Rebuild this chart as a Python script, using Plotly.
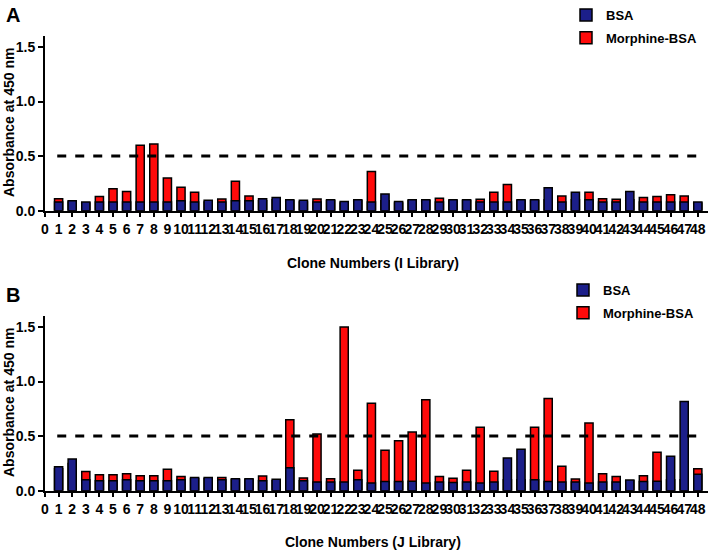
import plotly.graph_objects as go
from plotly.subplots import make_subplots

clones = list(range(1, 49))
tick_vals = list(range(0, 49))
y_ticks = [0, 0.5, 1.0, 1.5]
y_ticktext = ["0.0", "0.5", "1.0", "1.5"]
cutoff = 0.5

# I library (panel A)
bsa_i = [0.08, 0.09, 0.08, 0.08, 0.08, 0.08, 0.08, 0.08, 0.08, 0.09,
         0.08, 0.095, 0.08, 0.09, 0.09, 0.11, 0.12, 0.10, 0.095, 0.08,
         0.10, 0.085, 0.10, 0.08, 0.153, 0.085, 0.10, 0.10, 0.08, 0.10,
         0.10, 0.08, 0.08, 0.08, 0.10, 0.10, 0.21, 0.08, 0.17, 0.10,
         0.08, 0.08, 0.175, 0.08, 0.08, 0.08, 0.08, 0.08]
morph_i = [0.11, 0.08, 0.07, 0.13, 0.20, 0.175, 0.60, 0.61, 0.30, 0.215,
           0.17, 0.08, 0.107, 0.27, 0.135, 0.09, 0.10, 0.09, 0.08, 0.107,
           0.09, 0.07, 0.09, 0.36, 0.09, 0.07, 0.09, 0.09, 0.113, 0.09,
           0.09, 0.105, 0.17, 0.24, 0.09, 0.09, 0.10, 0.135, 0.10, 0.17,
           0.11, 0.105, 0.10, 0.12, 0.13, 0.145, 0.135, 0.07]

# J library (panel B)
bsa_j = [0.22, 0.29, 0.10, 0.09, 0.09, 0.10, 0.09, 0.09, 0.09, 0.10,
         0.12, 0.12, 0.10, 0.11, 0.11, 0.09, 0.105, 0.21, 0.09, 0.08,
         0.08, 0.08, 0.10, 0.07, 0.085, 0.085, 0.086, 0.07, 0.08, 0.075,
         0.08, 0.07, 0.08, 0.30, 0.38, 0.10, 0.085, 0.08, 0.08, 0.07,
         0.08, 0.08, 0.098, 0.085, 0.086, 0.316, 0.816, 0.15]
morph_j = [0.20, 0.25, 0.175, 0.147, 0.147, 0.156, 0.138, 0.138, 0.196, 0.13,
           0.11, 0.11, 0.12, 0.10, 0.10, 0.135, 0.09, 0.65, 0.117, 0.52,
           0.11, 1.50, 0.187, 0.80, 0.37, 0.457, 0.537, 0.834, 0.129, 0.113,
           0.187, 0.58, 0.178, 0.10, 0.10, 0.58, 0.844, 0.224, 0.107, 0.62,
           0.156, 0.129, 0.09, 0.138, 0.353, 0.10, 0.10, 0.20]

BLUE = "#1c1f8a"
RED = "#ff0a0a"
FONT = "Liberation Sans, Arial, sans-serif"
H = 552.0
L = 45
PW = 708 - L  # plot width (r = 0)

def py(p):
    return (H - p) / H

def px_(p):
    return (p - L) / PW

fig = make_subplots(rows=2, cols=1)

panels = [(morph_i, bsa_i, 1, "legend"), (morph_j, bsa_j, 2, "legend2")]
for morph, bsa, row, leg in panels:
    fig.add_trace(go.Bar(x=clones, y=morph, name="Morphine-BSA", marker_color=RED,
                         marker_line=dict(color="black", width=1.5), width=0.6,
                         legend=leg, legendgroup="m", legendrank=2), row=row, col=1)
    fig.add_trace(go.Bar(x=clones, y=bsa, name="BSA", marker_color=BLUE,
                         marker_line=dict(color="black", width=1.5), width=0.6,
                         legend=leg, legendgroup="b", legendrank=1), row=row, col=1)
    fig.add_shape(type="line", x0=0.9, x1=47.9, y0=cutoff, y1=cutoff,
                  line=dict(color="black", width=3, dash="dash"), row=row, col=1)

axis_font = dict(family=FONT, size=14, color="black", weight="bold")
fig.update_xaxes(range=[0, PW / 13.6], tickvals=tick_vals, ticks="outside", ticklen=4,
                 tickwidth=2, tickcolor="black", showline=True, linecolor="black",
                 linewidth=2, showgrid=False, zeroline=False, tickfont=axis_font,
                 tickangle=0, automargin=False)
fig.update_yaxes(range=[0, 1.6], tickvals=y_ticks, ticktext=y_ticktext, ticks="outside",
                 ticklen=5, tickwidth=2, tickcolor="black", showline=True,
                 linecolor="black", linewidth=2, showgrid=False, zeroline=False,
                 tickfont=axis_font, automargin=False)
fig.update_layout(
    xaxis=dict(domain=[0, 1]), xaxis2=dict(domain=[0, 1]),
    yaxis=dict(domain=[py(210.7), py(36)]),
    yaxis2=dict(domain=[py(490.7), py(316)]),
)

annots = [
    ("Clone Numbers (I Library)", px_(373), py(263), 0),
    ("Clone Numbers (J Library)", px_(373), py(542), 0),
    ("Absorbance at 450 nm", px_(9), py(123), -90),
    ("Absorbance at 450 nm", px_(9), py(403), -90),
]
for text, x, y, ang in annots:
    fig.add_annotation(text=text, x=x, y=y, xref="paper", yref="paper", showarrow=False,
                       xanchor="center", yanchor="middle", textangle=ang,
                       font=dict(family=FONT, size=14, color="black", weight="bold"))
for text, y in [("A", py(15)), ("B", py(295))]:
    fig.add_annotation(text=text, x=px_(4), y=y, xref="paper", yref="paper",
                       showarrow=False, xanchor="left", yanchor="middle",
                       font=dict(family=FONT, size=20, color="black", weight="bold"))

leg_style = dict(xanchor="left", yanchor="top", bgcolor="rgba(0,0,0,0)",
                 traceorder="grouped", tracegroupgap=3,
                 font=dict(family=FONT, size=13, color="black", weight="bold"))
fig.update_layout(
    barmode="overlay",
    width=708, height=552,
    margin=dict(l=L, r=0, t=0, b=0),
    plot_bgcolor="white", paper_bgcolor="white",
    showlegend=True,
    legend=dict(x=px_(566), y=1.0, **leg_style),
    legend2=dict(x=px_(563), y=py(275), **leg_style),
)

# drop the default page margin so the figure sits at the window origin
fig.write_html("out.html", config={"displayModeBar": False},
               post_script="document.body.style.margin='0';")
